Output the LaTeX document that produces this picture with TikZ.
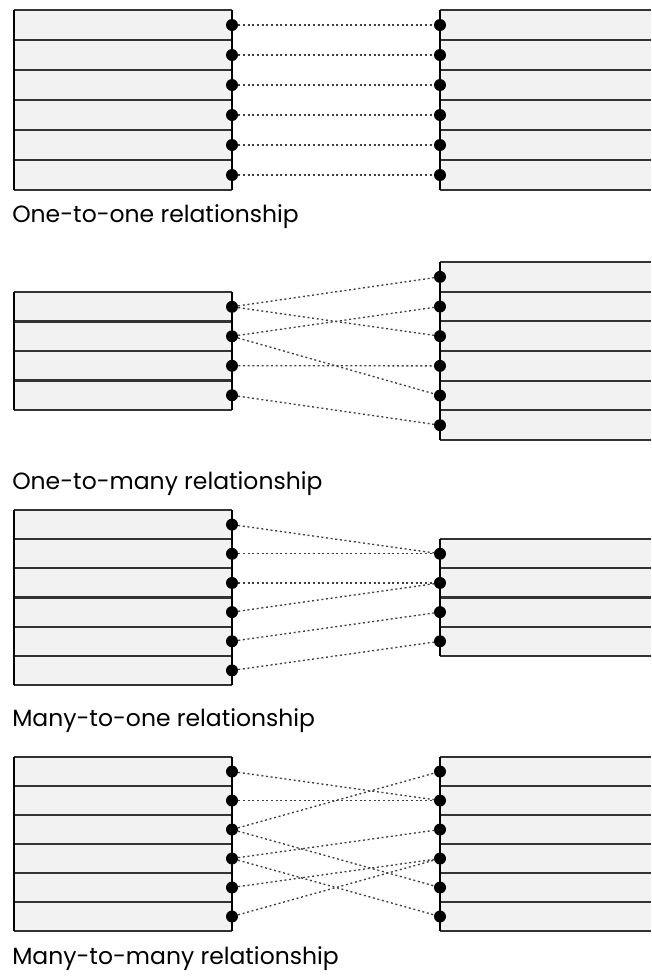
\documentclass[tikz,border=0pt]{standalone}
\usepackage{fontspec}
\setmainfont{Poppins}
\begin{document}
\begin{tikzpicture}[x=0.75pt,y=-0.75pt,
  rowline/.style={draw=black!80, line width=1.6pt},
  frame/.style={draw=black, line width=2pt},
  boxfill/.style={fill=black!5},
  pt/.style={circle, fill=black, inner sep=0pt, minimum size=9pt},
  conn/.style={draw=black!75, line width=1pt, dash pattern=on 1.5pt off 2pt},
  caption/.style={anchor=base west, inner sep=0pt, font=\fontsize{17.6}{21}\selectfont}]
\useasboundingbox (0,0) rectangle (651,976);

% ---------- Panel 1: one-to-one ----------
\fill[boxfill] (14,10) rectangle (232,190);
\foreach \i in {0,...,6} \draw[rowline] (14,10+30*\i) -- (232,10+30*\i);
\draw[frame] (14,10) -- (14,190);
\draw[frame] (232,10) -- (232,190);
\fill[boxfill] (440,10) rectangle (651,190);
\foreach \i in {0,...,6} \draw[rowline] (440,10+30*\i) -- (651,10+30*\i);
\draw[frame] (440,10) -- (440,190);
\foreach \i in {1,...,6} {
  \node[pt] (p1l\i) at (232,30*\i-5) {};
  \node[pt] (p1r\i) at (440,30*\i-5) {};
}
\foreach \i in {1,...,6} \draw[conn] (p1l\i) -- (p1r\i);
\node[caption] (c1) at (12,222) {One-to-one relationship};

% ---------- Panel 2: one-to-many ----------
\fill[boxfill] (14,292) rectangle (232,410);
\foreach \i in {0,...,4} \draw[rowline] (14,292+29.5*\i) -- (232,292+29.5*\i);
\draw[frame] (14,292) -- (14,410);
\draw[frame] (232,292) -- (232,410);
\fill[boxfill] (440,262) rectangle (651,440);
\foreach \i in {0,...,6} \draw[rowline] (440,262+29.67*\i) -- (651,262+29.67*\i);
\draw[frame] (440,262) -- (440,440);
\foreach \i in {1,...,4} \node[pt] (p2l\i) at (232,292+29.5*\i-14.75) {};
\foreach \i in {1,...,6} \node[pt] (p2r\i) at (440,262+29.67*\i-14.83) {};
\draw[conn] (p2l1) -- (p2r1);
\draw[conn] (p2l1) -- (p2r3);
\draw[conn] (p2l2) -- (p2r2);
\draw[conn] (p2l2) -- (p2r5);
\draw[conn] (p2l3) -- (p2r4);
\draw[conn] (p2l4) -- (p2r6);
\node[caption] (c2) at (12,489) {One-to-many relationship};

% ---------- Panel 3: many-to-one ----------
\fill[boxfill] (14,510) rectangle (232,685);
\foreach \i in {0,...,6} \draw[rowline] (14,510+29.17*\i) -- (232,510+29.17*\i);
\draw[frame] (14,510) -- (14,685);
\draw[frame] (232,510) -- (232,685);
\fill[boxfill] (440,539.17) rectangle (651,655.83);
\foreach \i in {1,...,5} \draw[rowline] (440,510+29.17*\i) -- (651,510+29.17*\i);
\draw[frame] (440,539.17) -- (440,655.83);
\foreach \i in {1,...,6} \node[pt] (p3l\i) at (232,510+29.17*\i-14.58) {};
\foreach \i in {1,...,4} \node[pt] (p3r\i) at (440,539.17+29.17*\i-14.58) {};
\draw[conn] (p3l1) -- (p3r1);
\draw[conn] (p3l2) -- (p3r1);
\draw[conn] (p3l3) -- (p3r2);
\draw[conn] (p3l4) -- (p3r2);
\draw[conn] (p3l5) -- (p3r3);
\draw[conn] (p3l6) -- (p3r4);
\node[caption] (c3) at (12,726) {Many-to-one relationship};

% ---------- Panel 4: many-to-many ----------
\fill[boxfill] (14,757) rectangle (232,931);
\foreach \i in {0,...,6} \draw[rowline] (14,757+29*\i) -- (232,757+29*\i);
\draw[frame] (14,757) -- (14,931);
\draw[frame] (232,757) -- (232,931);
\fill[boxfill] (440,757) rectangle (651,931);
\foreach \i in {0,...,6} \draw[rowline] (440,757+29*\i) -- (651,757+29*\i);
\draw[frame] (440,757) -- (440,931);
\foreach \i in {1,...,6} {
  \node[pt] (p4l\i) at (232,757+29*\i-14.5) {};
  \node[pt] (p4r\i) at (440,757+29*\i-14.5) {};
}
\draw[conn] (p4l1) -- (p4r2);
\draw[conn] (p4l2) -- (p4r2);
\draw[conn] (p4l3) -- (p4r1);
\draw[conn] (p4l3) -- (p4r5);
\draw[conn] (p4l4) -- (p4r3);
\draw[conn] (p4l4) -- (p4r6);
\draw[conn] (p4l5) -- (p4r4);
\draw[conn] (p4l6) -- (p4r4);
\node[caption] (c4) at (12,964) {Many-to-many relationship};
\end{tikzpicture}
\end{document}
